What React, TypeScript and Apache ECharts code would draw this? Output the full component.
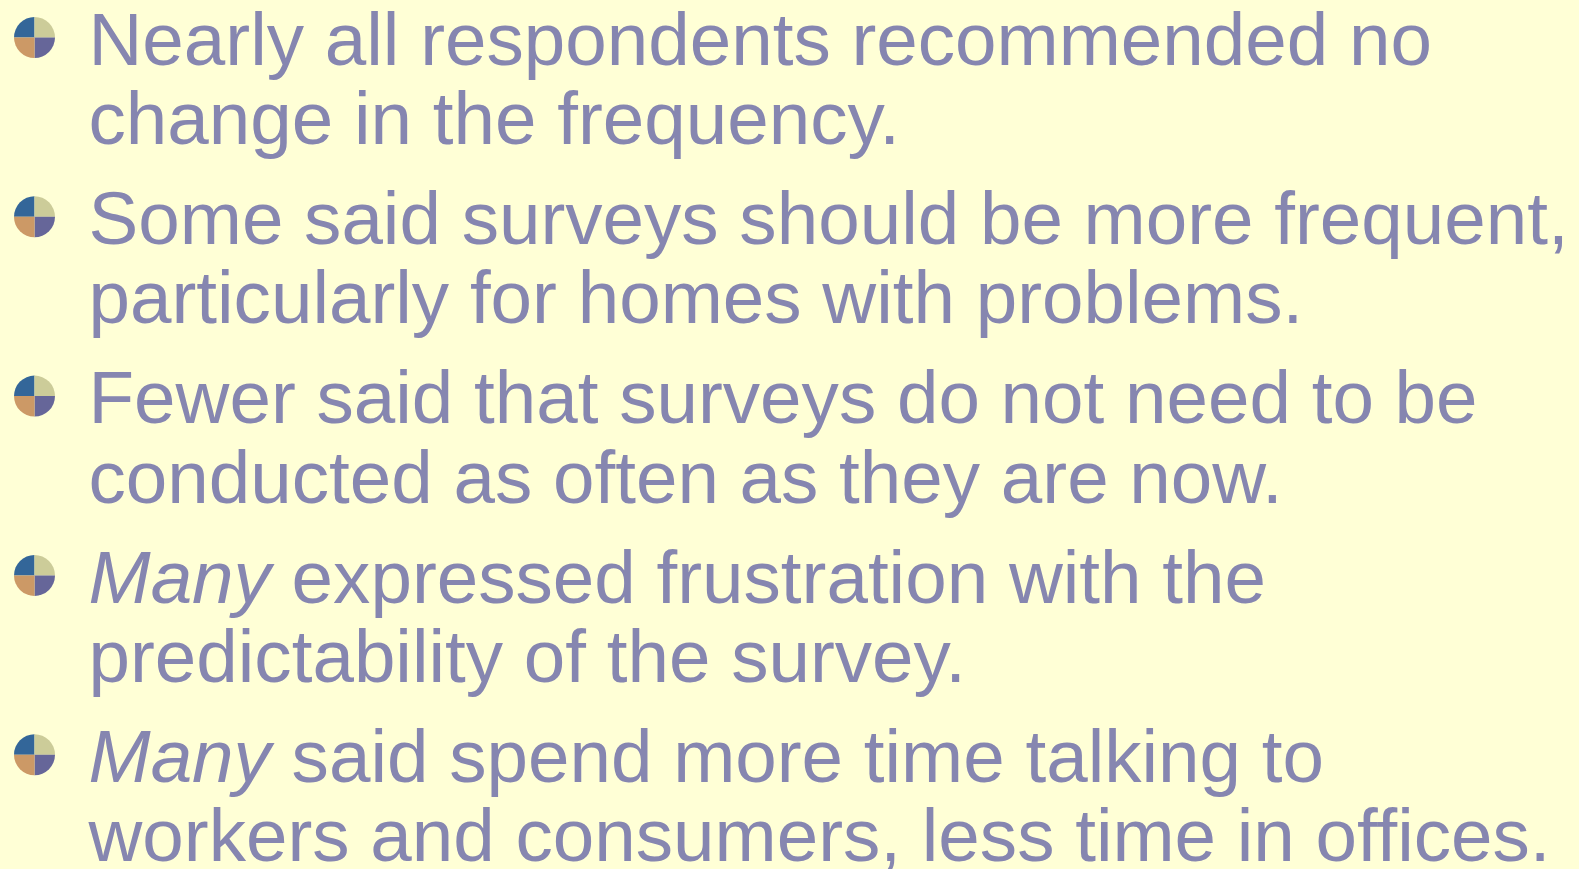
import React, { useEffect, useRef } from "react";
import * as echarts from "echarts";

// Bullet items: each has lines; segments marked with {i|...} are italic
const items: string[][] = [
  ["Nearly all respondents recommended no", "change in the frequency."],
  ["Some said surveys should be more frequent,", "particularly for homes with problems."],
  ["Fewer said that surveys do not need to be", "conducted as often as they are now."],
  ["{i|Many} expressed frustration with the", "predictability of the survey."],
  ["{i|Many} said spend more time talking to", "workers and consumers, less time in offices."],
];
const bulletColors = ["#336699", "#CCCC99", "#666699", "#CC9966"]; // TL, TR, BR, BL

export default function App() {
  const ref = useRef<HTMLDivElement>(null);
  useEffect(() => {
    document.body.style.margin = "0";
    const chart = echarts.init(ref.current!, null, { renderer: "svg" });
    const fontSize = 74.6;
    const color = "#8686B0";
    const family = "'Liberation Sans', Arial, sans-serif";
    const firstBaseline = 64.5;
    const lineStep = 79.5;
    const itemStep = 179.3;
    const textX = 88.5;
    const bulletX = 34.5;
    const r = 20.5;
    const centralOffset = 25.9;
    const els: any[] = [];
    items.forEach((lines, i) => {
      const base = firstBaseline + i * itemStep;
      const cy = base - 27;
      const angles = [
        [Math.PI, Math.PI * 1.5],
        [Math.PI * 1.5, Math.PI * 2],
        [0, Math.PI * 0.5],
        [Math.PI * 0.5, Math.PI],
      ];
      angles.forEach((a, q) => {
        els.push({
          type: "sector",
          shape: { cx: bulletX, cy, r, r0: 0, startAngle: a[0], endAngle: a[1], clockwise: true },
          style: { fill: bulletColors[q] },
        });
      });
      lines.forEach((ln, j) => {
        els.push({
          type: "text",
          x: textX,
          y: base + j * lineStep - centralOffset,
          style: {
            text: ln,
            fill: color,
            font: `${fontSize}px ${family}`,
            fontSize,
            fontFamily: family,
            lineHeight: 60,
            verticalAlign: "middle",
            align: "left",
            rich: {
              i: { fontStyle: "italic", fontSize, fontFamily: family, fill: color, lineHeight: 60 },
            },
          },
        });
      });
    });
    chart.setOption({
      animation: false,
      backgroundColor: "#FFFFD6",
      graphic: { elements: els },
    });
    return () => chart.dispose();
  }, []);
  return <div ref={ref} style={{ width: 1579, height: 869 }} />;
}
